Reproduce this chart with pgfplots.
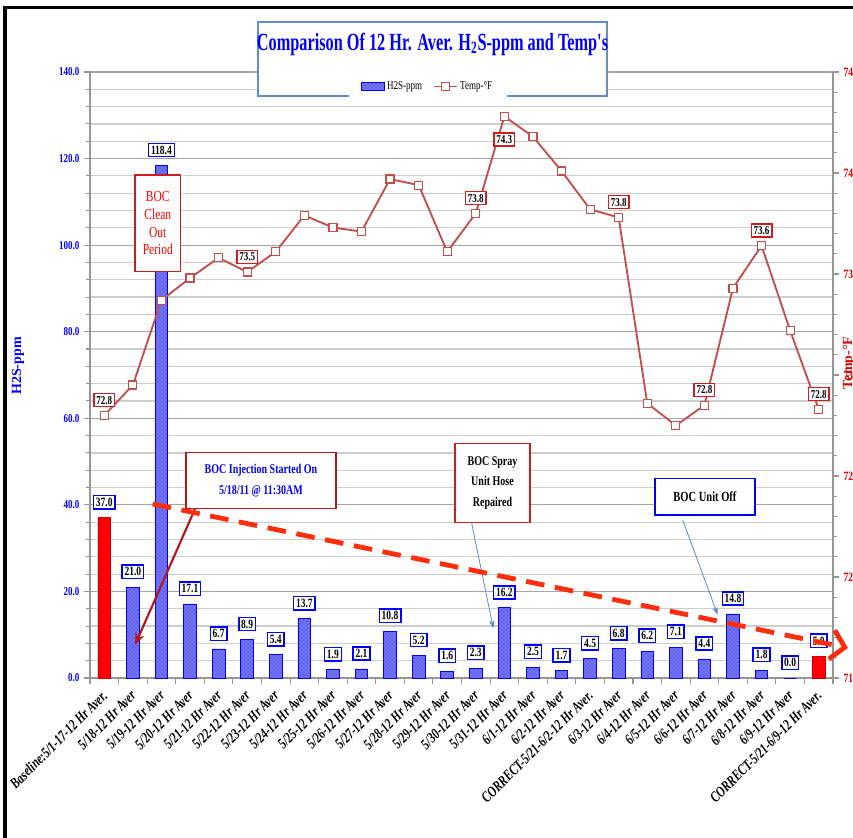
\documentclass[border=0pt]{standalone}
\usepackage{fontspec}
\setmainfont{Liberation Serif}
\newfontfamily\cond[FakeStretch=0.75]{Liberation Serif}
\newfontfamily\condt[FakeStretch=0.66]{Liberation Serif}
\usepackage{pgfplots}
\usepackage{pgfplotstable}
\pgfplotsset{compat=1.18}
\usetikzlibrary{patterns,arrows.meta}

\definecolor{tempred}{RGB}{192,80,77}
\definecolor{barblue}{RGB}{95,95,240}
\definecolor{darkred}{RGB}{175,25,25}
\definecolor{boxred}{RGB}{205,30,30}
\definecolor{gridminor}{RGB}{205,205,205}
\definecolor{gridmajor}{RGB}{165,165,165}
\definecolor{axisgray}{RGB}{150,150,150}
\definecolor{titleborder}{RGB}{100,140,200}
\definecolor{thinblue}{RGB}{90,140,200}
\definecolor{arroworange}{RGB}{255,45,10}

\pgfplotstableread{
idx h2s
1 21.0
2 118.4
3 17.1
4 6.7
5 8.9
6 5.4
7 13.7
8 1.9
9 2.1
10 10.8
11 5.2
12 1.6
13 2.3
14 16.2
15 2.5
16 1.7
17 4.5
18 6.8
19 6.2
20 7.1
21 4.4
22 14.8
23 1.8
24 0.0
}\bluebars

\pgfplotstableread{
idx h2s
0 37.0
25 5.0
}\redbars

\pgfplotstableread{
idx temp
0 72.80
1 72.95
2 73.37
3 73.48
4 73.58
5 73.51
6 73.61
7 73.79
8 73.73
9 73.71
10 73.97
11 73.94
12 73.61
13 73.80
14 74.28
15 74.18
16 74.01
17 73.82
18 73.78
19 72.86
20 72.75
21 72.85
22 73.43
23 73.64
24 73.22
25 72.83
}\temps

\pgfplotstableread{
idx temp lab
0 72.80 72.8
5 73.51 73.5
13 73.80 73.8
18 73.78 73.8
21 72.85 72.8
23 73.64 73.6
25 72.83 72.8
}\tempabove

\pgfplotstableread{
idx temp lab
14 74.28 74.3
}\tempbelow

\pgfplotsset{/pgf/number format/assume math mode=true}

\begin{document}
\begin{tikzpicture}
\useasboundingbox (0,0) rectangle (639.75pt,628.5pt);

\begin{axis}[
  at={(67.5pt,120pt)}, anchor=south west,
  width=557.25pt, height=454.5pt, scale only axis,
  xmin=-0.5, xmax=25.5, ymin=0, ymax=140,
  axis y line*=left, axis x line*=bottom,
  axis line style={draw=axisgray, line width=0.8pt},
  tick style={axisgray, line width=0.8pt},
  tick align=outside,
  major tick length=4.5pt, minor tick length=3pt,
  xtick={-0.5,0.5,...,25.5}, xticklabels={},
  extra x ticks={0,1,...,25},
  extra x tick style={major tick length=0pt},
  extra x tick labels={Baseline:5/1-17-12 Hr Aver., 5/18-12 Hr Aver, 5/19-12 Hr Aver, 5/20-12 Hr Aver, 5/21-12 Hr Aver, 5/22-12 Hr Aver, 5/23-12 Hr Aver, 5/24-12 Hr Aver, 5/25-12 Hr Aver, 5/26-12 Hr Aver, 5/27-12 Hr Aver, 5/28-12 Hr Aver, 5/29-12 Hr Aver, 5/30-12 Hr Aver, 5/31-12 Hr Aver, 6/1-12 Hr Aver, 6/2-12 Hr Aver, CORRECT-5/21-6/2-12 Hr Aver., 6/3-12 Hr Aver, 6/4-12 Hr Aver, 6/5-12 Hr Aver, 6/6-12 Hr Aver, 6/7-12 Hr Aver, 6/8-12 Hr Aver, 6/9-12 Hr Aver, CORRECT-5/21-6/9-12 Hr Aver.},
  xticklabel style={rotate=45, anchor=east, font=\cond\bfseries\itshape\fontsize{11.3}{12}\selectfont, text=black, xshift=-4.4pt, yshift=-8.4pt},
  ytick={0,20,...,140}, minor y tick num=4,
  ymajorgrids, yminorgrids,
  major grid style={gridmajor, line width=0.9pt},
  minor grid style={gridminor, line width=0.9pt},
  yticklabel style={font=\cond\bfseries\fontsize{9}{10}\selectfont, text=blue},
  /pgf/number format/fixed, /pgf/number format/fixed zerofill, /pgf/number format/precision=1,
  ylabel={H2S-ppm},
  ylabel style={at={(axis description cs:-0.097,0.515)}, anchor=center, font=\bfseries\fontsize{10.5}{12}\selectfont, text=blue},
  clip=false,
]
\addplot[ybar, bar width=9.5pt, bar shift=0pt, fill=barblue, draw=blue, line width=0.6pt,
  postaction={pattern=crosshatch dots, pattern color=white!80!blue}]
  table[x=idx, y=h2s]{\bluebars};
\addplot[ybar, bar width=9.5pt, bar shift=0pt, fill=red, draw=red!80!black, line width=0.6pt]
  table[x=idx, y=h2s]{\redbars};
\addplot[draw=none, mark=none, nodes near coords={\pgfmathprintnumber[fixed,fixed zerofill,precision=1]{\pgfplotspointmeta}}, point meta=y,
  every node near coord/.append style={draw=blue, fill=white, text=black, line width=1.1pt, inner sep=1.8pt, font=\cond\bfseries\fontsize{9.5}{10}\selectfont, anchor=south, yshift=6pt}]
  table[x=idx, y=h2s]{\bluebars};
\addplot[draw=none, mark=none, nodes near coords={\pgfmathprintnumber[fixed,fixed zerofill,precision=1]{\pgfplotspointmeta}}, point meta=y,
  every node near coord/.append style={draw=blue, fill=white, text=black, line width=1.1pt, inner sep=1.8pt, font=\cond\bfseries\fontsize{9.5}{10}\selectfont, anchor=south, yshift=6pt}]
  table[x=idx, y=h2s]{\redbars};
\end{axis}

\begin{axis}[
  at={(67.5pt,120pt)}, anchor=south west,
  width=557.25pt, height=454.5pt, scale only axis,
  xmin=-0.5, xmax=25.5, ymin=71.5, ymax=74.5,
  axis y line*=right, axis x line=none,
  axis line style={draw=axisgray, line width=0.8pt},
  tick style={axisgray, line width=0.8pt},
  tick align=outside,
  major tick length=4.5pt, minor tick length=3pt,
  ytick={71.5,72,...,74.5}, minor y tick num=4,
  yticklabel style={font=\cond\bfseries\fontsize{9.5}{10}\selectfont, text=red!85!black},
  /pgf/number format/fixed, /pgf/number format/fixed zerofill, /pgf/number format/precision=1,
  ylabel={Temp-°F},
  ylabel style={at={(axis description cs:1.0215,0.52)}, anchor=center, font=\bfseries\fontsize{10.5}{12}\selectfont, text=red!85!black},
  clip=false,
  legend columns=2,
  legend style={at={(0.4549,0.976)}, anchor=center, fill=white, draw=none, inner xsep=9pt, inner ysep=4pt,
    font=\cond\fontsize{9}{10}\selectfont,
    /tikz/every even column/.append style={column sep=6pt}},
]
% title box (drawn over the grid, under the legend)
\draw[titleborder, line width=1.2pt, fill=white] (rel axis cs:0.2261,1.0825) rectangle (rel axis cs:0.6958,0.9604);
\node[text=blue, font=\condt\bfseries\fontsize{18.5}{20}\selectfont] at (rel axis cs:0.4610,1.0462) {Comparison Of 12 Hr. Aver. H\textsubscript{2}S-ppm and Temp's};

\addlegendimage{area legend, fill=barblue, draw=blue, postaction={pattern=crosshatch dots, pattern color=white!80!blue}}
\addlegendentry{H2S-ppm}
\addplot[tempred, line width=1.4pt, mark=square*, mark size=3pt, mark options={fill=white, line width=0.9pt}]
  table[x=idx, y=temp]{\temps};
\addlegendentry{Temp-°F}
\addplot[draw=none, mark=none, forget plot, nodes near coords, point meta=explicit symbolic,
  every node near coord/.append style={draw=boxred, fill=white, text=black, line width=1.1pt, inner sep=1.8pt, font=\cond\bfseries\fontsize{9}{10}\selectfont, anchor=south, yshift=6pt}]
  table[x=idx, y=temp, meta=lab]{\tempabove};
\addplot[draw=none, mark=none, forget plot, nodes near coords, point meta=explicit symbolic,
  every node near coord/.append style={draw=boxred, fill=white, text=black, line width=1.1pt, inner sep=1.8pt, font=\cond\bfseries\fontsize{9}{10}\selectfont, anchor=north, yshift=-12pt}]
  table[x=idx, y=temp, meta=lab]{\tempbelow};

% annotations
\node[draw=boxred, line width=1.1pt, fill=white, text=red, minimum width=34pt, minimum height=72.5pt, align=center, inner sep=1pt,
  font=\cond\fontsize{11.5}{13.2}\selectfont] at (rel axis cs:0.09125,0.7502) {BOC\\Clean\\Out\\Period};
\draw[darkred, line width=1.6pt, -{Stealth[length=9pt,width=7pt]}] (rel axis cs:0.1413,0.2789) -- (rel axis cs:0.0606,0.0545);
\node[draw=darkred, line width=1.1pt, fill=white, text=blue, minimum width=112.5pt, minimum height=41.7pt, align=center,
  font=\cond\bfseries\fontsize{10}{16}\selectfont] at (rel axis cs:0.2301,0.3259) {BOC Injection Started On\\5/18/11 @ 11:30AM};
\node[draw=boxred, line width=1.1pt, fill=white, text=black, minimum width=56pt, minimum height=59.5pt, align=center,
  font=\cond\bfseries\fontsize{10}{15.4}\selectfont] at (rel axis cs:0.5417,0.3218) {BOC Spray\\Unit Hose\\Repaired};
\draw[thinblue, line width=0.6pt, -{Stealth[length=6pt,width=4pt]}] (rel axis cs:0.5137,0.2553) -- (rel axis cs:0.5428,0.0820);
\node[draw=blue, line width=1.1pt, fill=white, text=black, minimum width=75pt, minimum height=27.5pt, align=center,
  font=\cond\bfseries\fontsize{10.5}{12}\selectfont] at (rel axis cs:0.8277,0.2992) {BOC Unit Off};
\draw[thinblue, line width=0.6pt, -{Stealth[length=6pt,width=4pt]}] (rel axis cs:0.7977,0.2607) -- (rel axis cs:0.8448,0.1040);
\draw[arroworange, line width=3.6pt, dash pattern=on 14pt off 8pt, -{Straight Barb[length=10pt,width=22pt]}] (rel axis cs:0.0844,0.2871) -- (rel axis cs:1.0202,0.0495);
\end{axis}

\draw[black, line width=2.4pt] (3.75pt,-10pt) -- (3.75pt,623pt) -- (660pt,623pt);
\end{tikzpicture}
\end{document}
